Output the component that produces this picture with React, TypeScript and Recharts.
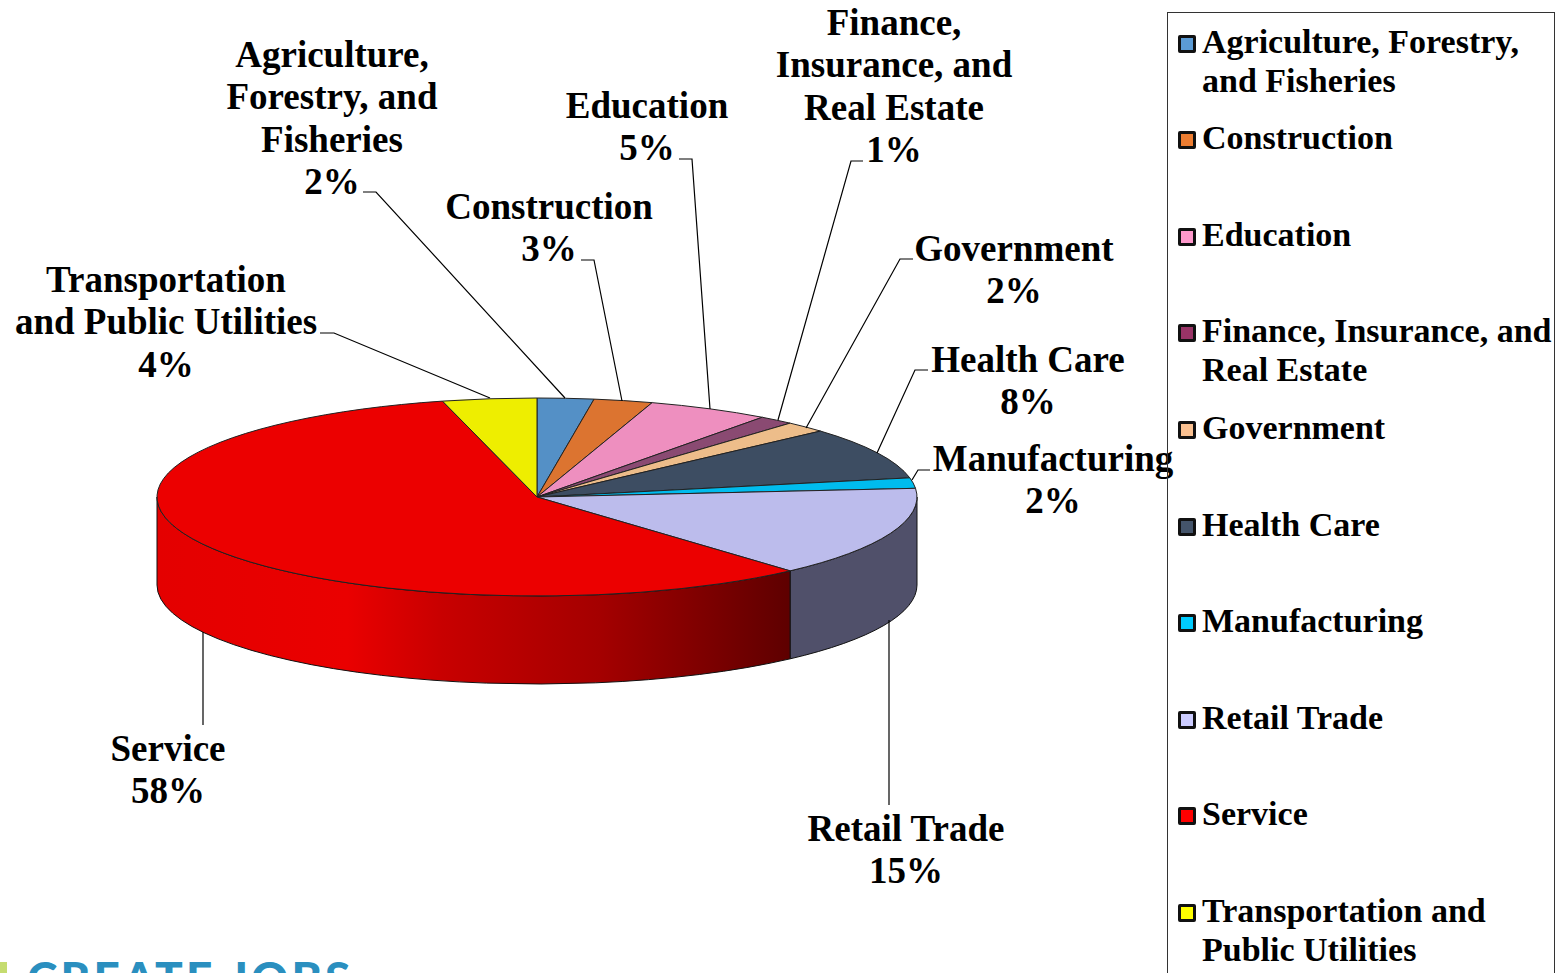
import React from "react";
import { PieChart, Pie, Legend } from "recharts";

const sectors = [
  "Agriculture, Forestry, and Fisheries",
  "Construction",
  "Education",
  "Finance, Insurance, and Real Estate",
  "Government",
  "Health Care",
  "Manufacturing",
  "Retail Trade",
  "Service",
  "Transportation and Public Utilities",
];
const shares = [2.4, 2.5, 5.2, 1.5, 1.8, 8.5, 1.7, 14.8, 57.6, 4.0];
const percentLabels = ["2%", "3%", "5%", "1%", "2%", "8%", "2%", "15%", "58%", "4%"];
const sliceColors = ["#5490c6", "#dc7430", "#ee8fbf", "#8a4a72", "#edbd8a", "#3d4d62", "#00bcee", "#bcbcec", "#ec0000", "#eeee00"];
const legendColors = ["#5b9bd5", "#ed7d31", "#ff99cc", "#993366", "#fac090", "#44546a", "#00ccff", "#ccccff", "#ff0000", "#ffff00"];
const labelLines = [
  ["Agriculture,", "Forestry, and", "Fisheries"],
  ["Construction"],
  ["Education"],
  ["Finance,", "Insurance, and", "Real Estate"],
  ["Government"],
  ["Health Care"],
  ["Manufacturing"],
  ["Retail Trade"],
  ["Service"],
  ["Transportation", "and Public Utilities"],
];
const legendLines = [
  ["Agriculture, Forestry,", "and Fisheries"],
  ["Construction"],
  ["Education"],
  ["Finance, Insurance, and", "Real Estate"],
  ["Government"],
  ["Health Care"],
  ["Manufacturing"],
  ["Retail Trade"],
  ["Service"],
  ["Transportation and", "Public Utilities"],
];

const chartData = sectors.map((name, i) => ({ name, value: shares[i], fill: sliceColors[i] }));

const FONT = '"Liberation Serif", serif';
const CX = 537;
const CY = 497;
const RX = 380;
const RY = 99;
const DEPTH = 88;
const TILT = RY / RX;

const labelLayout = [
  { x: 332, y: 66.7, line: "363,192 376,192 565,398" },
  { x: 549, y: 218.7, line: "581,260 594,260 622,401" },
  { x: 647, y: 117.7, line: "679,159 692,159 710,409" },
  { x: 894, y: 34.7, line: "863,161 851,161 778,420" },
  { x: 1014, y: 260.7, line: "913,259 900,259 806,428" },
  { x: 1028, y: 371.7, line: "928,370 915,370 877,453" },
  { x: 1053, y: 470.7, line: "930,470 918,470 912,480" },
  { x: 906, y: 840.7, line: "889,805 889,620" },
  { x: 168, y: 760.7, line: "203,725 203,632" },
  { x: 166, y: 291.7, line: "320,333 334,333 490,398" },
];

const pt = (cx: number, cy: number, r: number, deg: number, dy = 0) => {
  const a = (deg * Math.PI) / 180;
  return [cx + r * Math.cos(a), cy - r * TILT * Math.sin(a) + dy];
};

function wallPath(cx: number, cy: number, r: number, from: number, to: number) {
  const [x1, y1] = pt(cx, cy, r, from);
  const [x2, y2] = pt(cx, cy, r, to);
  const ry = r * TILT;
  return `M${x1},${y1} A${r},${ry} 0 0 1 ${x2},${y2} L${x2},${y2 + DEPTH} A${r},${ry} 0 0 0 ${x1},${y1 + DEPTH} Z`;
}

function Slice(props: any) {
  const { cx, cy, outerRadius: r, startAngle, endAngle, fill, index, name } = props;
  const ry = r * TILT;
  const [x1, y1] = pt(cx, cy, r, startAngle);
  const [x2, y2] = pt(cx, cy, r, endAngle);
  const large = Math.abs(startAngle - endAngle) > 180 ? 1 : 0;
  // the front wall is the part of the sweep between 0 and -180 degrees
  const from = Math.min(startAngle, 0);
  const to = Math.max(endAngle, -180);
  const hasWall = from > to && startAngle > -180;
  const isService = (name ?? props.payload?.name) === "Service" || index === 8;
  const gid = "wall-service";
  return (
    <g>
      {hasWall && (
        <>
          {isService && (
            <defs>
              <linearGradient id={gid} gradientUnits="userSpaceOnUse" x1={157} x2={790} y1={0} y2={0}>
                <stop offset="0" stopColor="#e40000" />
                <stop offset="0.3" stopColor="#ea0000" />
                <stop offset="0.45" stopColor="#c80000" />
                <stop offset="0.7" stopColor="#a40000" />
                <stop offset="1" stopColor="#5e0000" />
              </linearGradient>
            </defs>
          )}
          <path d={wallPath(cx, cy, r, from, to)} fill={isService ? `url(#${gid})` : "#50506a"} stroke="#111" strokeWidth={1} />
        </>
      )}
      <path
        d={`M${cx},${cy} L${x1},${y1} A${r},${ry} 0 ${large} 1 ${x2},${y2} Z`}
        fill={fill}
        stroke="#222"
        strokeWidth={1}
      />
    </g>
  );
}

function SliceLabel(props: any) {
  const i = props.index as number;
  const lay = labelLayout[i];
  const rows = [...labelLines[i], percentLabels[i]];
  return (
    <g>
      <polyline points={lay.line} fill="none" stroke="#000" strokeWidth={1.2} />
      <text x={lay.x} y={lay.y} textAnchor="middle" fontFamily={FONT} fontWeight="bold" fontSize={37} fill="#000">
        {rows.map((t, k) => (
          <tspan key={k} x={lay.x} y={lay.y + k * 42.4}>
            {t}
          </tspan>
        ))}
      </text>
    </g>
  );
}

function LegendBox(props: any) {
  const items = props.payload ?? [];
  return (
    <div style={{ position: "relative", width: 386, height: 990, border: "1px solid #333", background: "transparent", fontFamily: FONT, fontWeight: "bold", fontSize: 34, color: "#000" }}>
      {items.map((it: any, i: number) => (
        <div key={i} style={{ position: "absolute", left: 0, top: 8.5 + i * 96.6, width: 386 }}>
          <span style={{ position: "absolute", left: 9.5, top: 13, width: 12, height: 12, border: "3px solid #111", borderRadius: 2, background: legendColors[i] }} />
          {legendLines[i].map((t, k) => (
            <div key={k} style={{ position: "absolute", left: 34, top: k * 39, lineHeight: "39px", whiteSpace: "nowrap" }}>
              {t}
            </div>
          ))}
        </div>
      ))}
    </div>
  );
}

export default function App() {
  return (
    <div style={{ position: "absolute", left: 0, top: 0, width: 1555, height: 973, overflow: "hidden", background: "#fff" }}>
      <PieChart width={1555} height={973} margin={{ top: 0, right: 0, bottom: 0, left: 0 }}>
        <Pie
          data={chartData}
          dataKey="value"
          nameKey="name"
          cx={CX}
          cy={CY}
          innerRadius={0}
          outerRadius={RX}
          startAngle={90}
          endAngle={-270}
          isAnimationActive={false}
          shape={Slice}
          inactiveShape={Slice}
          activeShape={Slice}
          label={SliceLabel}
          labelLine={false}
        />
        <Legend
          layout="vertical"
          align="right"
          verticalAlign="top"
          itemSorter={null}
          content={LegendBox}
          wrapperStyle={{ position: "absolute", left: 1167, top: 12, width: 388, height: 990 }}
        />
      </PieChart>
      <svg width={400} height={20} style={{ position: "absolute", left: 0, top: 953 }}>
        <rect x={0} y={9} width={7} height={11} fill="#c5dc70" />
        <text x={27} y={42} fontFamily="Lato, sans-serif" fontWeight="900" fontSize={46} letterSpacing={3.1} fill="#2a8fbf">
          CREATE JOBS
        </text>
      </svg>
    </div>
  );
}
